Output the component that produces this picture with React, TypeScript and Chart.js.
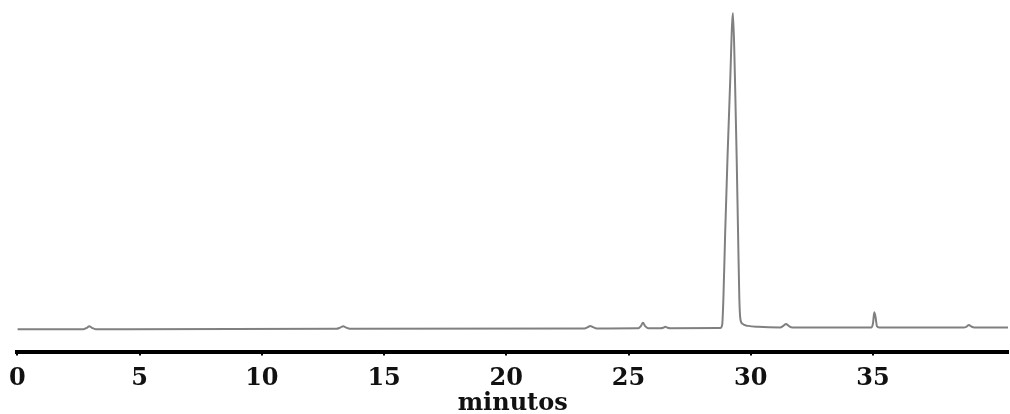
import React, { useEffect, useRef } from "react";
import { Chart, registerables } from "chart.js";

Chart.register(...registerables);

// Retention time (minutes) of each sampled point of the trace
const retentionTimes = [
  0, 2.7, 2.85, 2.94, 3.05, 3.2,
  13.05, 13.2, 13.33, 13.45, 13.6,
  23.2, 23.33, 23.43, 23.55, 23.7,
  25.4, 25.5, 25.59, 25.68, 25.8,
  26.3, 26.42, 26.5, 26.6, 26.7,
  28.75, 28.83, 28.88, 28.95, 29.05, 29.15, 29.27, 29.35, 29.42, 29.48, 29.53, 29.57, 29.65, 29.9, 30.3,
  31.2, 31.33, 31.44, 31.55, 31.7,
  34.92, 35.0, 35.05, 35.1, 35.16, 35.25,
  38.7, 38.83, 38.92, 39.02, 39.15, 40.52,
];

// Detector response (relative units) at each retention time
const signal = [
  0, 0.05, 0.5, 1.0, 0.5, 0.05,
  0.2, 0.55, 1.0, 0.55, 0.2,
  0.3, 0.7, 1.1, 0.7, 0.3,
  0.35, 1.0, 2.1, 1.0, 0.35,
  0.35, 0.5, 0.8, 0.5, 0.35,
  0.4, 1.5, 10, 30, 55, 77, 100, 80, 55, 30, 10, 3.5, 1.8, 1.1, 0.8,
  0.6, 1.1, 1.7, 1.1, 0.6,
  0.6, 2.0, 5.4, 4.0, 1.0, 0.6,
  0.6, 0.9, 1.4, 0.9, 0.6, 0.6,
];

// Labelled ticks on the time axis
const tickValues = [0, 5, 10, 15, 20, 25, 30, 35];
const axisTitle = "minutos";

export default function App() {
  const canvasRef = useRef<HTMLCanvasElement | null>(null);

  useEffect(() => {
    document.body.style.margin = "0";
    const canvas = canvasRef.current;
    if (!canvas) return;

    const points = retentionTimes.map((t, i) => ({ x: t, y: signal[i] }));

    const chart = new Chart(canvas, {
      type: "line",
      data: {
        datasets: [
          {
            data: points,
            borderColor: "#808080",
            borderWidth: 2,
            pointRadius: 0,
            cubicInterpolationMode: "monotone",
            fill: false,
          },
        ],
      },
      options: {
        responsive: false,
        animation: false,
        layout: { padding: { left: 17, right: 2, top: 0, bottom: -4 } },
        plugins: {
          legend: { display: false },
          tooltip: { enabled: false },
        },
        scales: {
          x: {
            type: "linear",
            min: 0,
            max: 40.52,
            afterBuildTicks: (scale: any) => {
              scale.ticks = tickValues.map((v) => ({ value: v }));
            },
            grid: {
              drawOnChartArea: false,
              drawTicks: true,
              tickLength: 3,
              color: "#000",
              lineWidth: 2,
            },
            border: { display: true, color: "#000", width: 4 },
            ticks: {
              color: "#111",
              padding: 9,
              maxRotation: 0,
              autoSkip: false,
              font: { family: "DejaVu Serif", weight: "bold", size: 24 },
            },
            title: {
              display: true,
              text: axisTitle,
              color: "#111",
              padding: { top: -13, bottom: 0 },
              font: { family: "DejaVu Serif", weight: "bold", size: 24 },
            },
          },
          y: {
            display: false,
            min: -7.28,
            max: 104.11,
          },
        },
      },
    });

    return () => chart.destroy();
  }, []);

  return (
    <div style={{ width: 1010, height: 414, background: "#fff" }}>
      <canvas ref={canvasRef} width={1010} height={414} />
    </div>
  );
}
